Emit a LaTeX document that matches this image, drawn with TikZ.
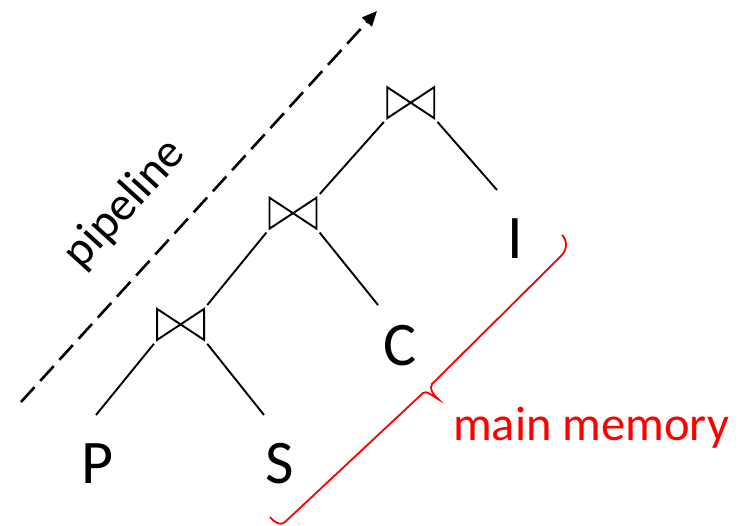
\documentclass[tikz,border=0pt]{standalone}
\usepackage{fontspec}
\setmainfont{Carlito}
\usetikzlibrary{arrows.meta}
\begin{document}
\begin{tikzpicture}[x=1pt,y=-1pt,
  joinbox/.style={minimum width=47pt,minimum height=31pt,inner sep=0pt,outer sep=0pt},
  bow/.style={line width=1.9pt},
  edge/.style={line width=1.9pt, shorten <=5pt},
  leaf/.style={font=\fontsize{62}{62}\selectfont, inner sep=0pt, anchor=base},
]
\useasboundingbox (0,0) rectangle (738,526);
% join nodes
\node[joinbox] (j1) at (180.6,324.4) {};
\node[joinbox] (j2) at (293,213.2) {};
\node[joinbox] (j3) at (410.7,102.7) {};
\foreach \j in {j1,j2,j3}
  \draw[bow] (\j.north west) -- (\j.south west) -- (\j.north east) -- (\j.south east) -- cycle;
% leaves
\node[leaf] (P) at (98,483) {P};
\node[leaf] (S) at (280,483) {S};
\node[leaf] (C) at (400,365) {C};
\node[leaf] (I) at (515.5,259) {I};
\coordinate (Pt) at (96,415);
\coordinate (St) at (264,415);
\coordinate (Ct) at (378,305);
\coordinate (It) at (497,190);
% edges
\draw[edge] (j1.south west) -- (Pt);
\draw[edge] (j1.south east) -- (St);
\draw[edge, shorten >=5pt] (j1.north east) -- (j2.south west);
\draw[edge] (j2.south east) -- (Ct);
\draw[edge, shorten >=5pt] (j2.north east) -- (j3.south west);
\draw[edge] (j3.south east) -- (It);
% pipeline arrow
\coordinate (a0) at (21,402);
\coordinate (a1) at (377,11);
\draw[line width=2.6pt, dash pattern=on 20pt off 8.5pt, -{Triangle[length=15pt,width=13pt]}] (a0) -- (a1);
\node[font=\fontsize{48}{48}\selectfont, rotate=47.7, inner sep=0pt] (pl) at (125,204) {pipeline};
% brace
\draw[red, line width=1.8pt] (562,235) .. controls (568,241) and (567,250) .. (561,256)
  -- (432,384) .. controls (429,388) and (433,395) .. (438,399)
  .. controls (432,396) and (427,390) .. (423,393)
  -- (285,522) .. controls (281,526) and (275,523) .. (270,517);
\node[red, font=\fontsize{48.5}{48.5}\selectfont, inner sep=0pt, anchor=base west] (mm) at (453,440) {main memory};
\end{tikzpicture}
\end{document}
